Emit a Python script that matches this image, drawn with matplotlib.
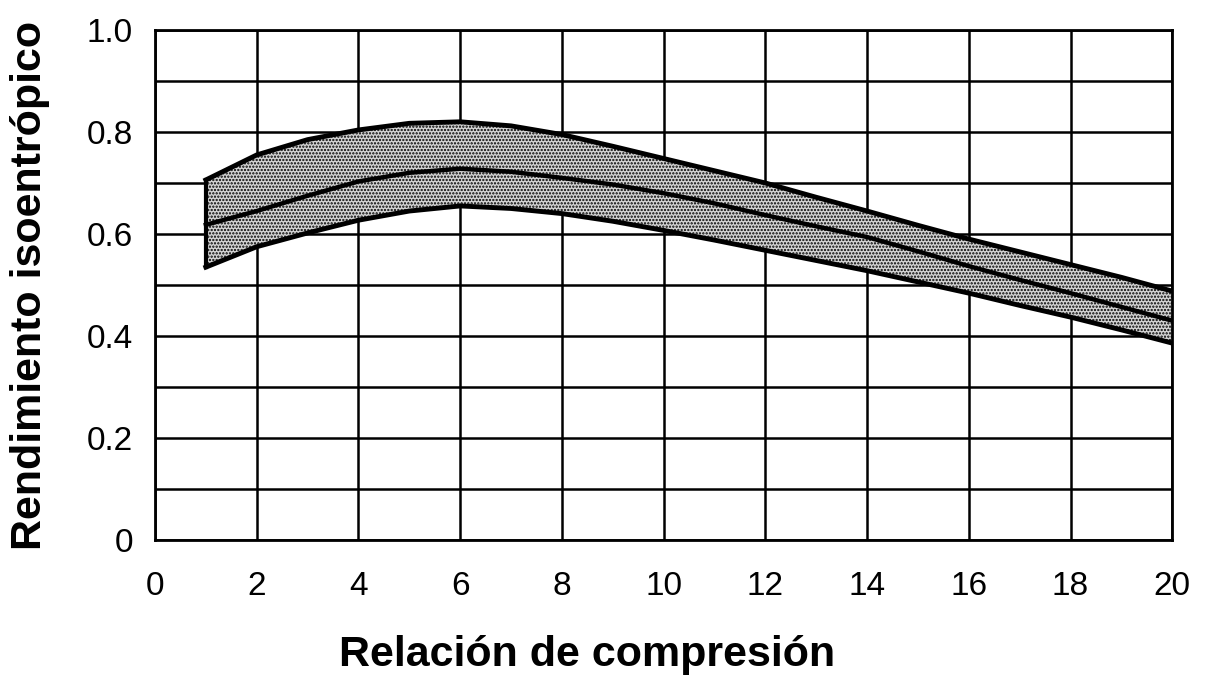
"""
Rendimiento isoentrópico frente a relación de compresión (banda típica).
"""

import matplotlib
matplotlib.use("Agg")
import matplotlib.pyplot as plt

# relacion de compresion
x_vals = [1, 2, 3, 4, 5, 6, 7, 8, 9, 10, 11, 12, 13, 14, 15, 16, 17, 18, 19, 20]

# limite superior de la banda
upper = [0.706, 0.755, 0.785, 0.804, 0.817, 0.820, 0.812, 0.795, 0.772, 0.748,
         0.724, 0.700, 0.672, 0.645, 0.617, 0.590, 0.565, 0.540, 0.515, 0.488]

# curva media
middle = [0.618, 0.645, 0.675, 0.703, 0.720, 0.728, 0.722, 0.710, 0.697, 0.680,
          0.660, 0.637, 0.615, 0.594, 0.566, 0.537, 0.510, 0.484, 0.457, 0.430]

# limite inferior de la banda
lower = [0.535, 0.575, 0.602, 0.627, 0.645, 0.655, 0.650, 0.640, 0.625, 0.607,
         0.588, 0.568, 0.548, 0.528, 0.506, 0.484, 0.460, 0.437, 0.412, 0.386]

x_ticks = [0, 2, 4, 6, 8, 10, 12, 14, 16, 18, 20]
y_ticks = [0, 0.2, 0.4, 0.6, 0.8, 1.0]
y_tick_labels = ["0", "0.2", "0.4", "0.6", "0.8", "1.0"]

plt.rcParams['font.family'] = ['Liberation Sans', 'DejaVu Sans']
plt.rcParams['hatch.linewidth'] = 1.1
plt.rcParams['hatch.color'] = 'black'

fig = plt.figure(figsize=(12.11, 6.77), dpi=100)
ax = fig.add_axes([0.128, 0.2024, 0.840, 0.7533])

# grid: every 2 units in x, every 0.1 in y
for gx in range(0, 21, 2):
    ax.axvline(gx, color='black', lw=1.8, zorder=1)
for i in range(11):
    ax.axhline(i / 10, color='black', lw=1.8, zorder=1)

# shaded band
ax.fill_between(x_vals, lower, upper, facecolor='#d4d4d4', edgecolor='black',
                hatch='.....', linewidth=0, zorder=2)
ax.plot(x_vals, upper, color='black', lw=3.5, zorder=3)
ax.plot(x_vals, lower, color='black', lw=3.5, zorder=3)
ax.plot(x_vals, middle, color='black', lw=3.2, zorder=3)
ax.plot([x_vals[0], x_vals[0]], [lower[0], upper[0]], color='black', lw=3.0, zorder=3)

ax.set_xlim(0, 20)
ax.set_ylim(0, 1.0)
ax.set_xticks(x_ticks)
ax.set_yticks(y_ticks)
ax.set_yticklabels(y_tick_labels)
ax.tick_params(axis='both', length=0, labelsize=24)
ax.tick_params(axis='x', pad=22)
ax.tick_params(axis='y', pad=16)

for sp in ax.spines.values():
    sp.set_linewidth(2)
    sp.set_color('black')

# the x label sits left of the axes centre in the original
ax.set_xlabel("Relación de compresión", fontsize=31, fontweight='bold', labelpad=24, x=0.425)
ax.set_ylabel("Rendimiento isoentrópico", fontsize=31, fontweight='bold', labelpad=26)

fig.savefig("out.png", dpi=100)
